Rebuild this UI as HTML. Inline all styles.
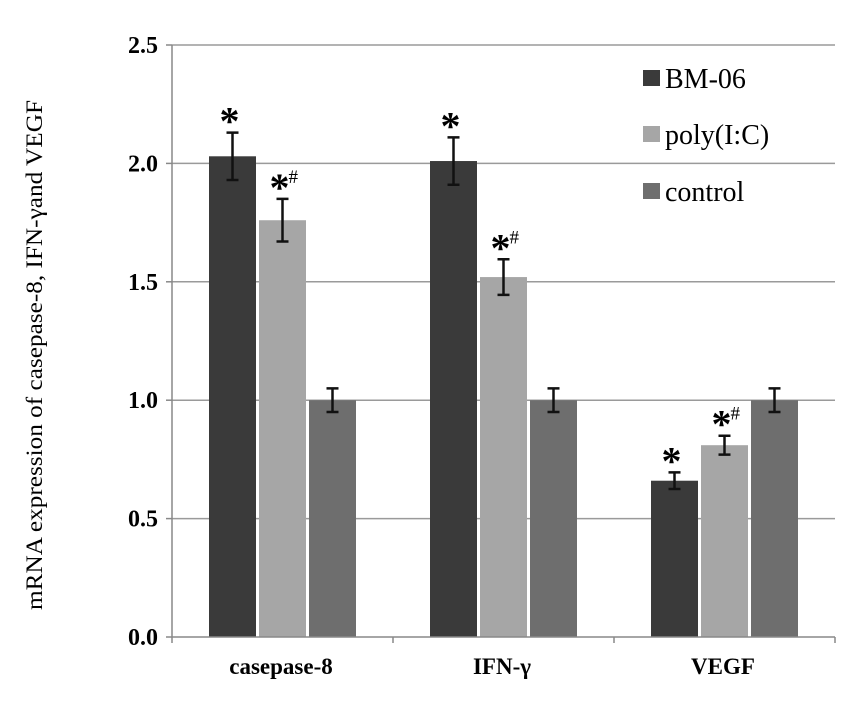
<!DOCTYPE html>
<html><head><meta charset="utf-8"><style>body{margin:0;background:#fff}svg{display:block}</style></head>
<body>
<svg width="857" height="703" viewBox="0 0 857 703" font-family="'Liberation Serif',serif">
<g id="grid"></g><g id="bars"></g><g id="axes"></g>
<g>
<rect x="643" y="70" width="17" height="16" fill="#3a3a3a"/>
<text x="665" y="88" font-size="28">BM-06</text>
<rect x="643" y="126" width="17" height="16" fill="#a6a6a6"/>
<text x="665" y="144" font-size="28">poly(I:C)</text>
<rect x="643" y="183" width="17" height="16" fill="#6e6e6e"/>
<text x="665" y="201" font-size="28">control</text>
</g>
<text transform="translate(42,355) rotate(-90)" text-anchor="middle" font-size="23" textLength="510" lengthAdjust="spacingAndGlyphs">mRNA expression of casepase-8, IFN-γand VEGF</text>
</svg>
<script>
const categories=["casepase-8","IFN-γ","VEGF"];
const bm06=[2.03,2.01,0.66];
const poly=[1.76,1.52,0.81];
const control=[1.0,1.0,1.0];
const bm06Err=[0.1,0.1,0.035];
const polyErr=[0.09,0.075,0.04];
const controlErr=[0.05,0.05,0.05];
const bm06Mark=["*","*","*"];
const polyMark=["*#","*#","*#"];
const yTicks=[0,0.5,1.0,1.5,2.0,2.5];
const NS="http://www.w3.org/2000/svg";
const x0=172,x1=835,yTop=45,yBot=637;
function y(v){return yBot-(v/2.5)*(yBot-yTop);}
const groupW=(x1-x0)/categories.length;
function gx(i){return x0+groupW*i+37;}
function mk(tag,a,p){const e=document.createElementNS(NS,tag);for(const k in a)e.setAttribute(k,a[k]);p.appendChild(e);return e;}
const grid=document.getElementById('grid'),bars=document.getElementById('bars'),axes=document.getElementById('axes');
yTicks.forEach(t=>{
 if(t>0){const l=mk('line',{x1:x0,x2:x1,y1:y(t),y2:y(t),stroke:'#9a9a9a','stroke-width':1.5},grid);
 
 }
 const tk=mk('line',{x1:x0-6,x2:x0,y1:y(t),y2:y(t),stroke:'#888','stroke-width':1.5},axes);
 
 
 const tx=mk('text',{x:x0-14,y:y(t)+8,'text-anchor':'end','font-size':24,'font-weight':'bold'},axes);
 tx.textContent=t.toFixed(1);
 
 
});
const ya=mk('line',{x1:x0,x2:x0,y1:yTop,y2:yBot,stroke:'#888','stroke-width':1.5},axes);


const xa=mk('line',{x1:x0,x2:x1,y1:yBot,y2:yBot,stroke:'#888','stroke-width':1.5},axes);


const series=[[bm06,bm06Err,'#3a3a3a',bm06Mark,'bm06'],[poly,polyErr,'#a6a6a6',polyMark,'poly'],[control,controlErr,'#6e6e6e',null,'control']];
const bw=47,step=50;
for(let k=0;k<=categories.length;k++){
 const tk=mk('line',{x1:x0+groupW*k,x2:x0+groupW*k,y1:yBot,y2:yBot+6,stroke:'#888','stroke-width':1.5},axes);
 
 
}
categories.forEach((c,i)=>{
 const lb=mk('text',{x:gx(i)+72,y:yBot+37,'text-anchor':'middle','font-size':23,'font-weight':'bold'},axes);
 lb.textContent=c;
 
 
 series.forEach((s,j)=>{
  const bx=gx(i)+j*step,v=s[0][i],e=s[1][i];
  const r=mk('rect',{x:bx,y:y(v),width:bw,height:yBot-y(v),fill:s[2]},bars);
  
  
  const cx=bx+bw/2;
  const eb=mk('path',{d:`M${cx},${y(v+e)}V${y(v-e)}M${cx-6},${y(v+e)}H${cx+6}M${cx-6},${y(v-e)}H${cx+6}`,stroke:'#111','stroke-width':2.5,fill:'none'},bars);
  
  
  if(s[3]){const m=s[3][i];
   const t=mk('text',{x:cx-13,y:y(v+e)+2,'font-size':40,'font-weight':'bold'},bars);
   t.textContent='*';
   
   
   if(m.includes('#')){const h=mk('text',{x:cx+6,y:y(v+e)-16,'font-size':19},bars);h.textContent='#';
    
    }
  }
 });
});
</script>
</body></html>
